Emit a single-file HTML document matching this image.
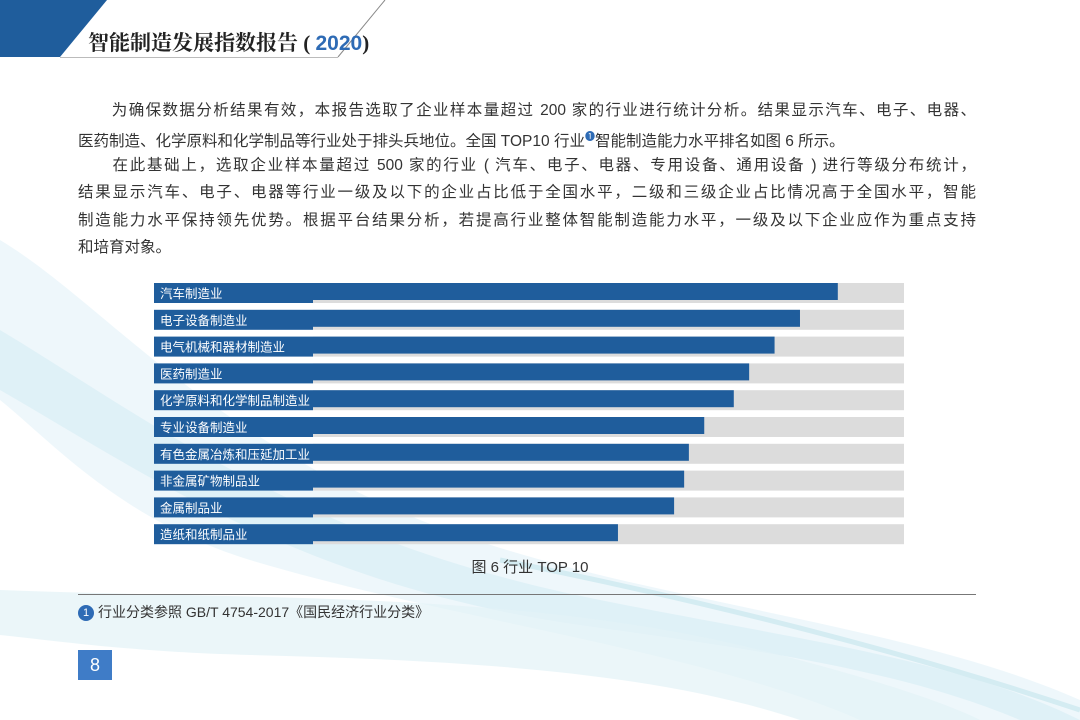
<!DOCTYPE html>
<html><head><meta charset="utf-8">
<style>
body{margin:0;width:1080px;height:720px;overflow:hidden;background:#fff;position:relative;font-family:"Liberation Sans","Noto Sans CJK SC",sans-serif;color:#333}
.bg{position:absolute;left:0;top:0}
.title{position:absolute;left:88px;top:27px;font-size:21px;font-weight:bold;color:#222;font-family:"Liberation Serif","Noto Serif CJK SC",serif;letter-spacing:0px}
.title b{color:#2e6bb5;font-family:"Liberation Sans",sans-serif}
.para{position:absolute;left:78px;width:898px;font-size:15.5px;line-height:27.4px;top:97px}
.ln{white-space:nowrap;text-align:justify;text-align-last:justify;height:27.4px}
.ln.s{text-align-last:left}
.cap{position:absolute;left:0;width:1060px;text-align:center;top:556px;font-size:15px;color:#333}
.rule{position:absolute;left:78px;top:594px;width:898px;height:1px;background:#777}
.note{position:absolute;left:78px;top:602px;font-size:14px;color:#333}
.note i{display:inline-block;width:16px;height:16px;border-radius:50%;background:#2e6bb5;color:#fff;font-style:normal;font-size:11px;text-align:center;line-height:16px;margin-right:4px;vertical-align:1px}
.pg{position:absolute;left:78px;top:650px;width:34px;height:30px;background:#3f7cc7;color:#fff;font-size:18px;text-align:center;line-height:30px}
</style></head><body>
<svg class="bg" width="1080" height="720">
<path d="M0 240 C100 300 200 430 420 520 C620 600 900 620 1080 700 L1080 720 L860 720 C700 650 450 620 250 560 C120 520 50 440 0 400Z" fill="#eaf5fa" opacity="0.8"/>
<path d="M0 330 C150 420 300 540 600 600 C800 640 960 660 1080 720 L1020 720 C900 670 760 650 580 625 C300 585 140 470 0 390Z" fill="#d9eef5" opacity="0.7"/>
<path d="M0 590 C250 600 520 590 760 650 C860 675 940 700 980 720 L800 720 C650 670 450 660 250 655 C130 652 50 640 0 635Z" fill="#e3f2f7" opacity="0.7"/>
<path d="M500 560 C700 600 900 650 1080 710" stroke="#c9e7ee" stroke-width="5" fill="none" opacity="0.7"/>
<polygon points="0,0 107,0 60,57 0,57" fill="#1f5d9c"/>
<line x1="385" y1="0" x2="338" y2="57" stroke="#888" stroke-width="1"/>
<line x1="60" y1="57.5" x2="338" y2="57.5" stroke="#bbb" stroke-width="1"/>
</svg>
<div class="title">智能制造发展指数报告 ( <b>2020</b>)</div>
<div class="para">
<div class="ln">　　为确保数据分析结果有效，本报告选取了企业样本量超过 200 家的行业进行统计分析。结果显示汽车、电子、电器、</div>
<div class="ln s">医药制造、化学原料和化学制品等行业处于排头兵地位。全国 TOP10 行业<sup style="color:#2e6bb5;font-size:10px">❶</sup>智能制造能力水平排名如图 6 所示。</div>
<div class="ln">　　在此基础上，选取企业样本量超过 500 家的行业 ( 汽车、电子、电器、专用设备、通用设备 ) 进行等级分布统计，</div>
<div class="ln">结果显示汽车、电子、电器等行业一级及以下的企业占比低于全国水平，二级和三级企业占比情况高于全国水平，智能</div>
<div class="ln">制造能力水平保持领先优势。根据平台结果分析，若提高行业整体智能制造能力水平，一级及以下企业应作为重点支持</div>
<div class="ln s">和培育对象。</div>
</div>
<svg id="chart" style="position:absolute;left:0;top:0" width="1080" height="720"></svg>
<div class="cap">图 6 行业 TOP 10</div>
<div class="rule"></div>
<div class="note"><i>1</i>行业分类参照 GB/T 4754-2017《国民经济行业分类》</div>
<div class="pg">8</div>
<script>
const categories=["汽车制造业","电子设备制造业","电气机械和器材制造业","医药制造业","化学原料和化学制品制造业","专业设备制造业","有色金属冶炼和压延加工业","非金属矿物制品业","金属制品业","造纸和纸制品业"];
const values=[88.8,82.4,78.1,73.8,71.2,66.2,63.6,62.8,61.1,51.6];
const maxValue=100;
const svg=document.getElementById('chart');
const NS='http://www.w3.org/2000/svg';
const x0=313,x1=904,labelX=154,top0=283,step=26.8,rowH=20;
function xs(v){return x0+(v/maxValue)*(x1-x0);}
function ys(i){return top0+i*step;}
categories.forEach((c,i)=>{
  const y=ys(i);
  const bg=document.createElementNS(NS,'rect');
  bg.setAttribute('x',x0);bg.setAttribute('y',y);bg.setAttribute('width',x1-x0);bg.setAttribute('height',rowH);bg.setAttribute('fill','#dcdcdc');
  
  
  svg.appendChild(bg);
  const lb=document.createElementNS(NS,'rect');
  lb.setAttribute('x',labelX);lb.setAttribute('y',y);lb.setAttribute('width',x0-labelX);lb.setAttribute('height',rowH);lb.setAttribute('fill','#1f5d9c');
  
  
  svg.appendChild(lb);
  const b=document.createElementNS(NS,'rect');
  b.setAttribute('x',x0);b.setAttribute('y',y);b.setAttribute('width',xs(values[i])-x0);b.setAttribute('height',rowH-3);b.setAttribute('fill','#1f5d9c');
  
  
  svg.appendChild(b);
  const t=document.createElementNS(NS,'text');
  t.setAttribute('x',labelX+6);t.setAttribute('y',y+15);t.setAttribute('fill','#fff');t.setAttribute('font-size','12.5');
  t.setAttribute('font-family','"Liberation Sans","Noto Sans CJK SC",sans-serif');
  t.textContent=c;
  
  
  svg.appendChild(t);
});
</script>
</body></html>
